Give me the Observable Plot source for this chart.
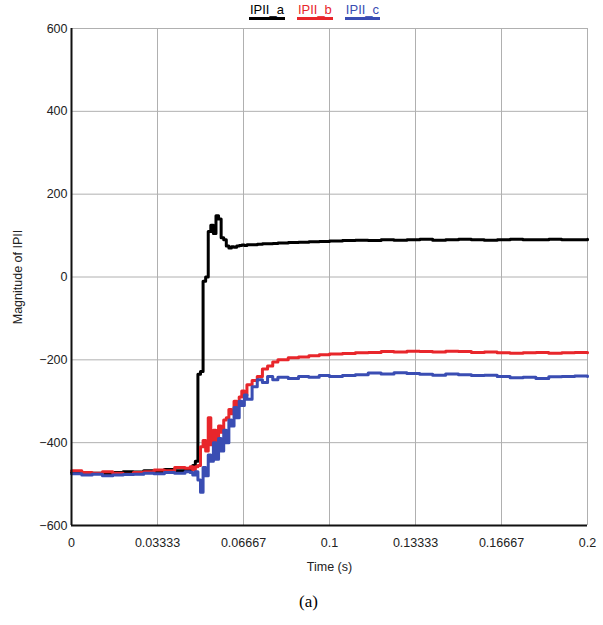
<!DOCTYPE html>
<html>
<head>
<meta charset="utf-8">
<script src="https://cdn.jsdelivr.net/npm/d3@7"></script>
<script src="https://cdn.jsdelivr.net/npm/@observablehq/plot@0.6"></script>
<style>
  body { margin: 0; background: #fff; font-family: "Liberation Sans", Arial, sans-serif; }
  #wrap { width: 603px; }
  #legend { height: 22px; display: flex; justify-content: center; gap: 12px; padding-left: 26px; box-sizing: border-box; font-size: 13px; line-height: 16px; padding-top: 2px; }
  #legend span { border-bottom: 3px solid; padding: 0 1px; height: 15px; }
  #caption { text-align: center; font-family: "Liberation Serif", "DejaVu Serif", serif; font-size: 17px; margin-top: 7px; padding-left: 14px; }
</style>
</head>
<body>
<div id="wrap">
  <div id="legend"></div>
  <div id="chart"></div>
  <div id="caption">(a)</div>
</div>
<script>
const seriesNames = ["IPII_a", "IPII_b", "IPII_c"];
const seriesColors = ["#000000", "#e8262b", "#3a4db3"];

const time = [
  0, 0.004, 0.008, 0.012, 0.016, 0.020, 0.024, 0.028, 0.032, 0.036, 0.040, 0.044,
  0.046, 0.047, 0.048, 0.049, 0.050, 0.051, 0.052, 0.053, 0.054, 0.055, 0.056, 0.057,
  0.058, 0.059, 0.060, 0.061, 0.062, 0.063, 0.064, 0.065, 0.066, 0.067, 0.068,
  0.070, 0.072, 0.074, 0.076, 0.078, 0.080,
  0.084, 0.088, 0.092, 0.096, 0.100,
  0.105, 0.110, 0.115, 0.120, 0.125, 0.130, 0.135, 0.140, 0.145, 0.150,
  0.155, 0.160, 0.165, 0.170, 0.175, 0.180, 0.185, 0.190, 0.195, 0.200
];

const ipiiA = [
  -472, -475, -474, -476, -472, -470, -471, -468, -470, -465, -468, -466,
  -464, -455, -445, -235, -228, -10, 0, 110, 125, 105, 148, 140,
  95, 90, 75, 70, 73, 72, 75, 76, 77, 76, 78,
  78, 79, 80, 80, 81, 82,
  83, 84, 85, 86, 87,
  88, 89, 88, 90, 89, 90, 91, 89, 90, 91,
  90, 89, 90, 91, 90, 90, 91, 90, 90, 91
];

const ipiiB = [
  -468, -472, -474, -470, -474, -476, -472, -470, -466, -468, -460, -462,
  -458, -466, -458, -455, -410, -395, -420, -340, -405, -370, -395, -360,
  -375, -345, -340, -320, -330, -300, -310, -290, -275, -285, -260,
  -250, -240, -222, -215, -205, -200,
  -195, -193, -190, -188, -186,
  -185, -183, -182, -180, -181, -179, -180, -181, -179, -180,
  -182, -181, -183, -184, -183, -182, -184, -183, -182, -183
];

const ipiiC = [
  -475, -478, -476, -480, -478, -477, -476, -474, -475, -472, -474, -470,
  -472, -478, -470, -490, -520, -460, -480, -430, -445, -400, -440, -390,
  -420, -370, -400, -345, -360, -315, -340, -300, -310, -285, -295,
  -265, -248, -255, -240, -248, -242,
  -245, -240, -242, -238, -240,
  -238, -236, -232, -234, -231, -233, -235, -237, -234, -236,
  -238, -237, -240, -243, -242, -245, -241, -240, -239, -240
];

const xTickValues = [0, 1/30, 2/30, 0.1, 4/30, 5/30, 0.2];
const xTickLabels = ["0", "0.03333", "0.06667", "0.1", "0.13333", "0.16667", "0.2"];
const yTickValues = [-600, -400, -200, 0, 200, 400, 600];

const allValues = [ipiiA, ipiiB, ipiiC];
const rows = [];
seriesNames.forEach((name, s) => {
  time.forEach((t, i) => rows.push({ series: name, t, v: allValues[s][i] }));
});

// legend
const legend = document.getElementById("legend");
seriesNames.forEach((name, i) => {
  const sp = document.createElement("span");
  sp.textContent = name;
  sp.style.color = seriesColors[i];
  sp.style.borderColor = seriesColors[i];
  legend.appendChild(sp);
});

const chart = Plot.plot({
  width: 603,
  height: 563,
  marginLeft: 71,
  marginRight: 16,
  marginTop: 6,
  marginBottom: 60,
  style: { fontFamily: "Liberation Sans, Arial, sans-serif", fontSize: "12.5px", color: "#222" },
  x: { domain: [0, 0.2] },
  y: { domain: [-600, 600] },
  color: { domain: seriesNames, range: seriesColors },
  marks: [
    Plot.gridX(xTickValues, { stroke: "#b0b0b0", strokeOpacity: 1, strokeWidth: 1 }),
    Plot.gridY(yTickValues, { stroke: "#b0b0b0", strokeOpacity: 1, strokeWidth: 1 }),
    Plot.line(rows, { x: "t", y: "v", z: "series", stroke: "series", strokeWidth: 3, curve: "step-after" }),
    Plot.ruleX([0], { stroke: "#111", strokeWidth: 2 }),
    Plot.ruleY([-600], { stroke: "#111", strokeWidth: 2 }),
    Plot.axisX(xTickValues, { tickFormat: (d, i) => xTickLabels[i], tickSize: 0, tickPadding: 13, label: "Time (s)", labelAnchor: "center", labelArrow: "none", labelOffset: 45, fontSize: 12.5 }),
    Plot.axisY(yTickValues, { tickSize: 0, tickPadding: 4, label: "Magnitude of IPII", labelAnchor: "center", labelArrow: "none", labelOffset: 58, fontSize: 12.5 })
  ]
});
document.getElementById("chart").appendChild(chart);
</script>
</body>
</html>
